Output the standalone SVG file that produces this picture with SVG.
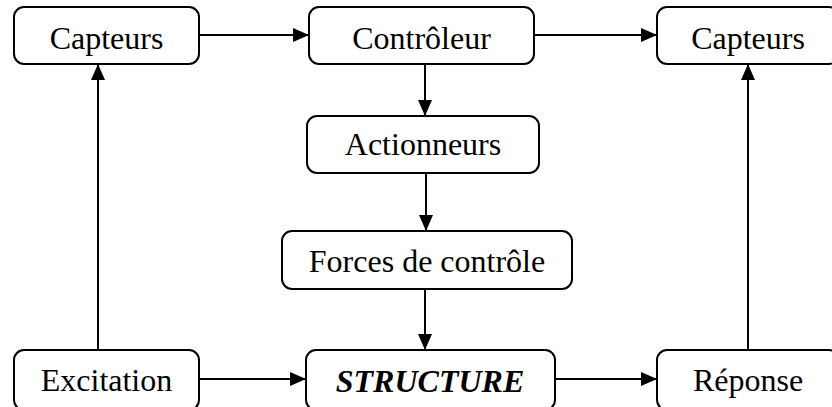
<svg xmlns="http://www.w3.org/2000/svg" width="832" height="407" viewBox="0 0 832 407">
<defs>
<marker id="ah" markerWidth="16" markerHeight="14" refX="16" refY="7" orient="auto" markerUnits="userSpaceOnUse">
<path d="M0,0 L16,7 L0,14 Z" fill="#000"/>
</marker>
</defs>
<style>
.box{fill:#fff;stroke:#000;stroke-width:2}
.t{font-family:"Liberation Serif","Times New Roman",serif;font-size:32px;fill:#000;text-anchor:middle}
.b{font-weight:bold;font-style:italic}
.c{stroke:#000;stroke-width:2;fill:none;marker-end:url(#ah)}
</style>
<rect width="832" height="407" fill="#fff"/>
<g id="connectors">
<line class="c" x1="199" y1="35" x2="309" y2="35"/>
<line class="c" x1="534" y1="35" x2="657" y2="35"/>
<line class="c" x1="425" y1="64" x2="425" y2="116"/>
<line class="c" x1="426" y1="173" x2="426" y2="231"/>
<line class="c" x1="425" y1="289" x2="425" y2="350"/>
<line class="c" x1="98" y1="350" x2="98" y2="64"/>
<line class="c" x1="748" y1="350" x2="748" y2="64"/>
<line class="c" x1="199" y1="379" x2="306" y2="379"/>
<line class="c" x1="555" y1="379" x2="657" y2="379"/>
</g>
<g id="capteurs1"><rect class="box" x="14" y="7" width="185" height="57" rx="10"/><text class="t" x="106.5" y="49">Capteurs</text></g>
<g id="controleur"><rect class="box" x="309" y="7" width="225" height="57" rx="10"/><text class="t" x="421.5" y="49">Contrôleur</text></g>
<g id="capteurs2"><rect class="box" x="657" y="7" width="182" height="57" rx="10"/><text class="t" x="748" y="49">Capteurs</text></g>
<g id="actionneurs"><rect class="box" x="307" y="116" width="232" height="57" rx="10"/><text class="t" x="423" y="155">Actionneurs</text></g>
<g id="forces"><rect class="box" x="282" y="231" width="290" height="58" rx="10"/><text class="t" x="427" y="272">Forces de contrôle</text></g>
<g id="excitation"><rect class="box" x="14" y="350" width="185" height="60" rx="10"/><text class="t" x="106.5" y="391">Excitation</text></g>
<g id="structure"><rect class="box" x="306" y="350" width="249" height="60" rx="10"/><text class="t b" x="430" y="392">STRUCTURE</text></g>
<g id="reponse"><rect class="box" x="657" y="350" width="182" height="60" rx="10"/><text class="t" x="748" y="391">Réponse</text></g>
</svg>
